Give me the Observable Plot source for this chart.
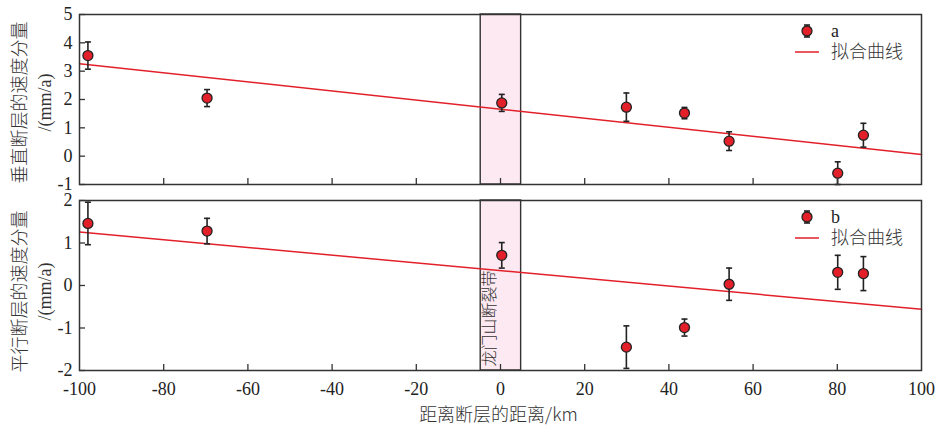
<!DOCTYPE html>
<html><head><meta charset="utf-8">
<script src="https://cdn.jsdelivr.net/npm/d3@7"></script>
<script src="https://cdn.jsdelivr.net/npm/@observablehq/plot@0.6"></script>
<style>
body{margin:0;background:#fff;}
#wrap{position:relative;width:937px;height:431px;overflow:hidden;}
#wrap svg{position:absolute;left:0;}
</style></head><body><div id="wrap"></div>
<script>
// ---- data ----
const distance      = [-98, -69.7, 0.3, 29.9, 43.7, 54.3, 80.1, 86.2];
const verticalRate  = [3.55, 2.05, 1.88, 1.73, 1.52, 0.53, -0.6, 0.74];
const verticalErr   = [0.48, 0.30, 0.30, 0.50, 0.20, 0.33, 0.40, 0.42];
const parallelRate  = [1.46, 1.28, 0.71, -1.45, -0.99, 0.03, 0.31, 0.28];
const parallelErr   = [0.50, 0.30, 0.30, 0.50, 0.20, 0.38, 0.40, 0.40];
const fitX          = [-100, 100];
const verticalFit   = [3.26, 0.06];
const parallelFit   = [1.26, -0.56];
const faultZone     = [-4.7, 4.9];
const faultZoneName = "龙门山断裂带";
const xTicks        = [-100, -80, -60, -40, -20, 0, 20, 40, 60, 80, 100];
const verticalTicks = [-1, 0, 1, 2, 3, 4, 5];
const parallelTicks = [-2, -1, 0, 1, 2];
const xTitle        = "距离断层的距离/km";
const fitName       = "拟合曲线";

const W = 937, ML = 79, MR = 16;
const RED = "#e3202a", INK = "#222", FRAME = "#333";
const FONT = "'Liberation Serif', 'Noto Sans CJK SC', serif";
const CJK = "'Noto Sans CJK SC', sans-serif";

const capSymbol = {draw(ctx, size) { const r = Math.sqrt(size / Math.PI); ctx.moveTo(-r, 0); ctx.lineTo(r, 0); }};

function panel(o) {
  const rows = distance.map((x, i) => ({x, y: o.rate[i], lo: o.rate[i] - o.err[i], hi: o.rate[i] + o.err[i]}));
  const fitRows = fitX.map((x, i) => ({x, y: o.fit[i]}));
  const plotH = o.height - o.marginTop - o.marginBottom;
  const plotW = W - ML - MR;
  const marks = [
    Plot.rect([{x1: faultZone[0], x2: faultZone[1]}], {x1: "x1", x2: "x2", fill: "#fde9f1", stroke: FRAME, strokeWidth: 1.4}),
    Plot.line(fitRows, {x: "x", y: "y", stroke: RED, strokeWidth: 1.5}),
    Plot.ruleX(rows, {x: "x", y1: "lo", y2: "hi", stroke: INK, strokeWidth: 1.6}),
    Plot.dot(rows, {x: "x", y: "hi", symbol: capSymbol, r: 3, stroke: INK, strokeWidth: 1.6}),
    Plot.dot(rows, {x: "x", y: "lo", symbol: capSymbol, r: 3, stroke: INK, strokeWidth: 1.6}),
    Plot.dot(rows, {x: "x", y: "y", r: 5, fill: RED, stroke: INK, strokeWidth: 1.3}),
    Plot.tickX(xTicks.slice(1, -1), {x: d => d, insetTop: plotH - 6, stroke: FRAME, strokeWidth: 1.3}),
    Plot.tickY(o.yTicks, {y: d => d, insetRight: plotW - 6, stroke: FRAME, strokeWidth: 1.3}),
    Plot.frame({stroke: FRAME, strokeWidth: 1.5}),
    Plot.axisY(o.yTicks, {tickSize: 0, tickPadding: 7, tickFormat: d => String(d), fontSize: 18, fill: INK}),
    Plot.text([o.yLabel], {frameAnchor: "left", textAnchor: "middle", rotate: -90, dx: -59, dy: o.labelDy, fontFamily: CJK, fontWeight: 300, fontSize: 18, fill: "#333"}),
    Plot.text(["/(mm/a)"], {frameAnchor: "left", textAnchor: "middle", rotate: -90, dx: -34, dy: o.labelDy, fontSize: 18, fill: "#333"})
  ];
  if (o.showX) {
    marks.push(Plot.axisX(xTicks, {tickSize: 0, tickPadding: 12, tickFormat: d => String(d), fontSize: 18, fill: INK}));
    marks.push(Plot.text([xTitle], {frameAnchor: "bottom", dy: 50, dx: -2, fontFamily: CJK, fontWeight: 300, fontSize: 18, fill: "#333"}));
    marks.push(Plot.text([faultZoneName], {x: (faultZone[0] + faultZone[1]) / 2, frameAnchor: "bottom", rotate: -90, textAnchor: "start", dx: -6, dy: -4, fontFamily: CJK, fontWeight: 300, fontSize: 16, fill: "#333"}));
  }
  const svg = Plot.plot({
    width: W, height: o.height,
    marginLeft: ML, marginRight: MR, marginTop: o.marginTop, marginBottom: o.marginBottom,
    style: {fontFamily: FONT, fontSize: "18px", color: INK, background: "transparent", overflow: "visible"},
    x: {domain: [-100, 100], axis: null},
    y: {domain: o.yDomain, axis: null},
    marks
  });
  svg.style.top = o.top + "px";
  // legend
  const g = d3.select(svg).append("g").attr("font-family", FONT).attr("text-anchor", "start");
  const lx = 807, ly = o.marginTop + 17;
  g.append("line").attr("x1", lx).attr("x2", lx).attr("y1", ly - 6).attr("y2", ly + 6).attr("stroke", INK).attr("stroke-width", 1.6);
  g.append("line").attr("x1", lx - 3).attr("x2", lx + 3).attr("y1", ly - 6).attr("y2", ly - 6).attr("stroke", INK).attr("stroke-width", 1.6);
  g.append("line").attr("x1", lx - 3).attr("x2", lx + 3).attr("y1", ly + 6).attr("y2", ly + 6).attr("stroke", INK).attr("stroke-width", 1.6);
  g.append("circle").attr("cx", lx).attr("cy", ly).attr("r", 5).attr("fill", RED).attr("stroke", INK).attr("stroke-width", 1.3);
  g.append("text").attr("x", 831).attr("y", ly).attr("dy", "0.32em").attr("font-size", 18).attr("fill", INK).text(o.key);
  g.append("line").attr("x1", 795).attr("x2", 819).attr("y1", ly + 21).attr("y2", ly + 21).attr("stroke", RED).attr("stroke-width", 1.5);
  g.append("text").attr("x", 831).attr("y", ly + 21).attr("dy", "0.35em").attr("font-size", 18).attr("font-family", CJK).attr("font-weight", 300).attr("fill", "#333").text(fitName);
  return svg;
}

const wrap = document.getElementById("wrap");
wrap.append(panel({rate: verticalRate, err: verticalErr, fit: verticalFit, yDomain: [-1, 5], yTicks: verticalTicks,
  top: 0, height: 190, marginTop: 14, marginBottom: 6, yLabel: "垂直断层的速度分量", labelDy: 3, key: "a", showX: false}));
wrap.append(panel({rate: parallelRate, err: parallelErr, fit: parallelFit, yDomain: [-2, 2], yTicks: parallelTicks,
  top: 190, height: 241, marginTop: 10, marginBottom: 61, yLabel: "平行断层的速度分量", labelDy: 6, key: "b", showX: true}));
</script></body></html>
